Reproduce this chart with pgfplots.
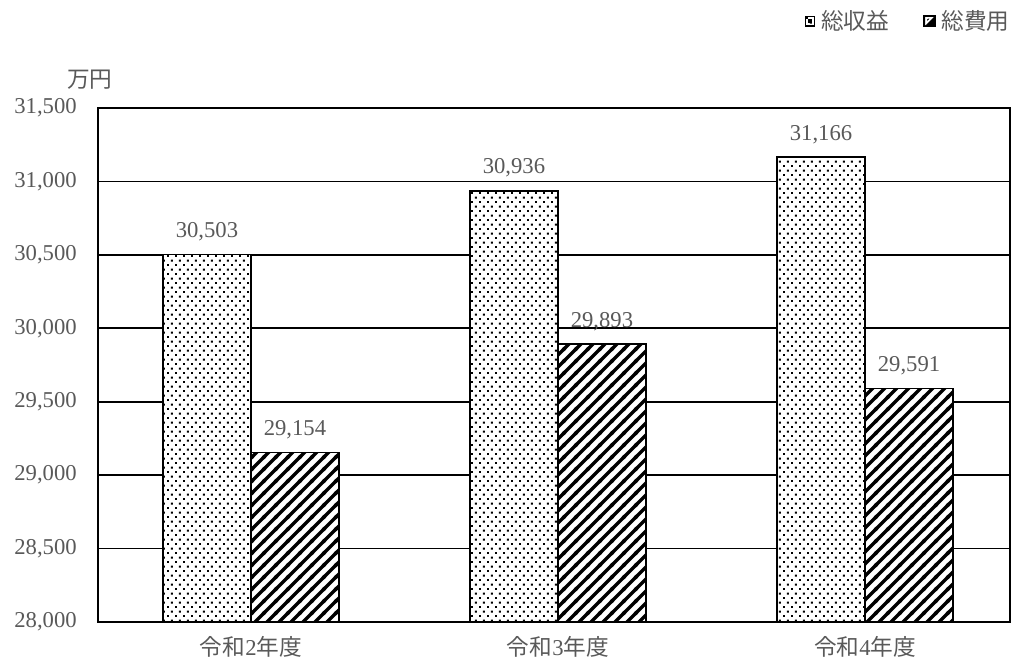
\documentclass[border=0pt]{standalone}
\usepackage{fontspec}
\setmainfont{Liberation Serif}
\newfontfamily\cjk{Noto Sans CJK JP}
\usepackage{pgfplots}
\pgfplotsset{compat=1.18}
\usetikzlibrary{patterns}
\definecolor{txt}{HTML}{595959}
\pgfdeclarepatternformonly{sdots}{\pgfpointorigin}{\pgfpoint{6.3pt}{6.6pt}}{\pgfpoint{6.3pt}{6.6pt}}{%
  \pgfpathrectangle{\pgfpoint{0pt}{0pt}}{\pgfpoint{1.5pt}{1.5pt}}%
  \pgfpathrectangle{\pgfpoint{3.15pt}{3.3pt}}{\pgfpoint{1.5pt}{1.5pt}}%
  \pgfusepath{fill}}
\pgfdeclarepatternformonly{shatch}{\pgfpoint{-1pt}{-1pt}}{\pgfpoint{10pt}{10pt}}{\pgfpoint{9pt}{9pt}}{%
  \pgfsetlinewidth{2.5pt}%
  \pgfpathmoveto{\pgfpoint{-1pt}{-1pt}}\pgfpathlineto{\pgfpoint{10pt}{10pt}}%
  \pgfpathmoveto{\pgfpoint{-1pt}{8pt}}\pgfpathlineto{\pgfpoint{1pt}{10pt}}%
  \pgfpathmoveto{\pgfpoint{8pt}{-1pt}}\pgfpathlineto{\pgfpoint{10pt}{1pt}}%
  \pgfusepath{stroke}}
\begin{document}
\begin{tikzpicture}
\useasboundingbox (-73.5pt,-29.25pt) rectangle (690.75pt,466.5pt);
\begin{axis}[
  at={(0,0)}, anchor=south west,
  scale only axis, width=684pt, height=385.5pt,
  ybar=0pt, bar width=66pt,
  xmin=-0.498, xmax=2.472,
  ymin=28000, ymax=31500,
  ytick={28000,28500,...,31500},
  scaled y ticks=false,
  xtick={0,1,2},
  xticklabels={{\cjk 令和}2{\cjk 年度},{\cjk 令和}3{\cjk 年度},{\cjk 令和}4{\cjk 年度}},
  major tick length=0pt,
  ymajorgrids, grid style={black, line width=1.3pt},
  axis line style={black, line width=1.4pt},
  /pgf/number format/1000 sep={,},
  /pgf/number format/assume math mode=true,
  tick label style={text=txt, font=\fontsize{17}{20}\selectfont},
  yticklabel style={anchor=east, inner sep=0pt, xshift=-15.75pt},
  xticklabel style={anchor=base, inner sep=0pt, yshift=-24.75pt},
  nodes near coords,
  every node near coord/.append style={anchor=base, yshift=12.75pt, text=txt, font=\fontsize{17}{20}\selectfont},
  ylabel={\cjk 万円},
  ylabel style={rotate=-90, at={(axis description cs:-0.0088,1.056)}, anchor=center, text=txt, font=\fontsize{17}{20}\selectfont},
  legend style={draw=none, fill=none, at={(axis description cs:1.002,1.169)}, anchor=east, legend columns=2, text=txt, font=\fontsize{17}{20}\selectfont, inner sep=0pt, nodes={inner sep=1.5pt}, /tikz/every odd column/.append style={column sep=3pt}, /tikz/every even column/.append style={column sep=24pt}},
  legend cell align=left,
  clip=false,
]
\addplot[draw=black, line width=1.2pt, fill=white, postaction={pattern=sdots},
  legend image code/.code={\draw[black,line width=1.3pt,fill=white] (-0.5pt,-3.4pt) rectangle (6.3pt,3.4pt); \fill[black] (1.9pt,-1pt) rectangle (3.9pt,1pt);}]
  coordinates {(0,30503) (1,30936) (2,31166)};
\addlegendentry{\cjk 総収益}
\addplot[draw=black, line width=1.2pt, fill=white, postaction={pattern=shatch},
  legend image code/.code={\fill[black] (-0.8pt,-4pt) rectangle (7.2pt,4pt); \fill[white] (0.8pt,2.4pt) -- (4.8pt,2.4pt) -- (0.8pt,-1.6pt) -- cycle;}]
  coordinates {(0,29154) (1,29893) (2,29591)};
\addlegendentry{\cjk 総費用}
\end{axis}
\end{tikzpicture}
\end{document}
